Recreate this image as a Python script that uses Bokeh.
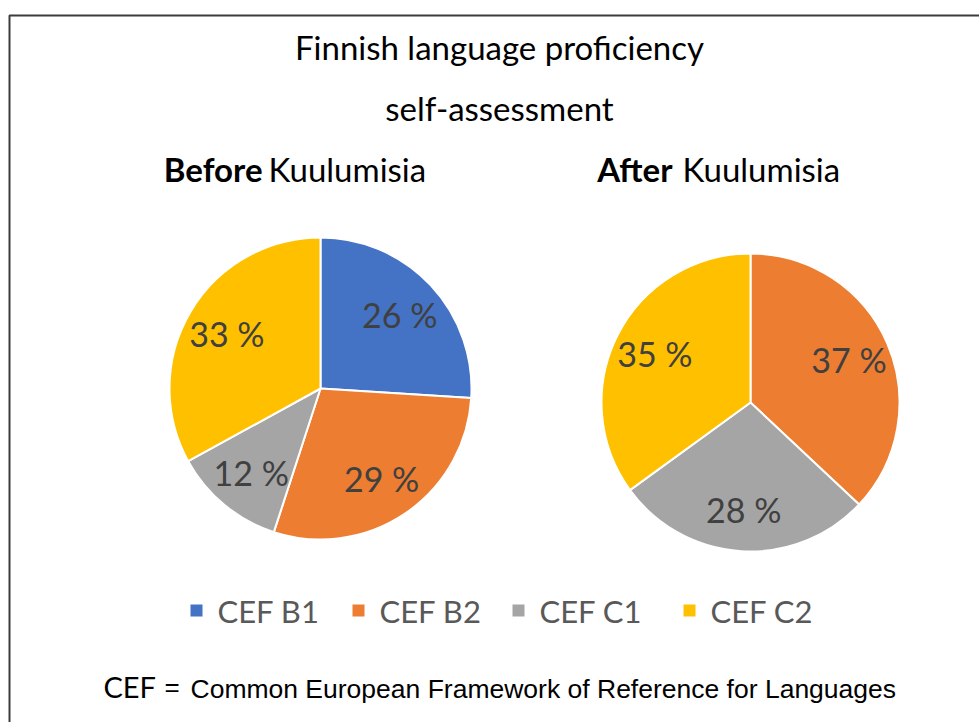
import math
from bokeh.plotting import figure
from bokeh.models import Range1d
from bokeh.core.properties import value
from bokeh.embed import file_html
from bokeh.resources import INLINE

# ---- data ----
categories = ["CEF B1", "CEF B2", "CEF C1", "CEF C2"]
colors = ["#4472C4", "#ED7D31", "#A5A5A5", "#FFC000"]
before_values = [26, 29, 12, 33]
after_values = [0, 37, 28, 35]
title_lines = ["Finnish language proficiency", "self-assessment"]
footer_text = "Common European Framework of Reference for Languages"

W, H = 979, 722
def Y(py):
    return H - py

p = figure(width=W, height=H, x_range=Range1d(0, W), y_range=Range1d(0, H),
           output_backend="svg", toolbar_location=None, min_border=0,
           x_axis_location=None, y_axis_location=None, outline_line_color=None)
p.grid.visible = False
p.background_fill_color = "white"
p.border_fill_color = "white"

# frame
p.line([9, 9, W + 5], [Y(H + 5), Y(15), Y(15)], line_color="#3c3c3c", line_width=2)

FONT = "Lato"

def txt(x, y, s, size, color="#000000", align="center", style="normal", font=FONT):
    p.text([x], [Y(y)], text=[s], text_align=align, text_baseline="middle",
           text_font=value(font), text_font_size=value(size), text_color=color,
           text_font_style=style)

txt(499, 46, title_lines[0], "33px")
txt(499, 107, title_lines[1], "33px")
txt(262, 168, "Before", "33px", align="right", style="bold")
txt(268, 168, "Kuulumisia", "33px", align="left")
txt(672, 168, "After", "33px", align="right", style="bold")
txt(682, 168, "Kuulumisia", "33px", align="left")

def pie(cx, cy, r, vals, frac=0.72):
    total = sum(vals)
    cum = 0.0
    for v, c in zip(vals, colors):
        if v <= 0:
            cum += v
            continue
        a0 = math.pi / 2 - 2 * math.pi * (cum + v) / total
        a1 = math.pi / 2 - 2 * math.pi * cum / total
        p.wedge(x=[cx], y=[Y(cy)], radius=r, start_angle=a0, end_angle=a1,
                fill_color=c, line_color="white", line_width=2)
        mid = 2 * math.pi * (cum + v / 2) / total
        lx = cx + frac * r * math.sin(mid)
        ly = cy - frac * r * math.cos(mid)
        txt(lx, ly, f"{v} %", "34px", color="#404040")
        cum += v

pie(320, 388, 151, before_values)
pie(750, 402, 149, after_values)

# legend
leg_x = [190, 352, 512, 683]
for lx, c, name in zip(leg_x, colors, categories):
    p.rect([lx + 6], [Y(610)], width=12, height=12, fill_color=c, line_color=None)
    txt(lx + 27, 610, name, "31px", color="#595959", align="left")

# footer
txt(103, 686, "CEF", "29px", color="#000000", align="left")
txt(164, 686, "=", "26px", color="#000000", align="left", font="Liberation Sans")
txt(190, 688, footer_text, "26.5px", color="#000000", align="left", font="Liberation Sans")

open("out.html", "w").write(file_html(p, INLINE))
